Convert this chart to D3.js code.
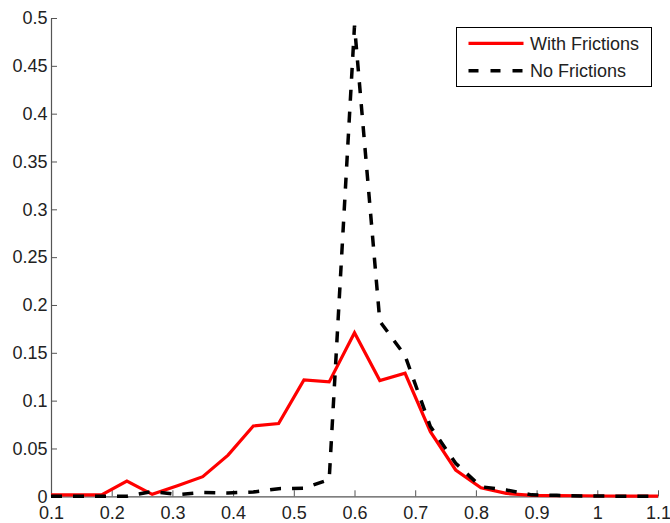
<!DOCTYPE html>
<html>
<head>
<meta charset="utf-8">
<script src="https://cdn.jsdelivr.net/npm/d3@7"></script>
<style>
  html, body { margin: 0; padding: 0; background: #fff; }
  svg { display: block; }
  text { font-family: "Liberation Sans", Arial, sans-serif; fill: #222; }
</style>
</head>
<body>
<svg id="chart" width="670" height="523"></svg>
<script>
// ---- data ----
const xValues = [0.1, 0.1417, 0.1833, 0.225, 0.2667, 0.3083, 0.35, 0.3917, 0.4333, 0.475,
                 0.5167, 0.5583, 0.6, 0.6417, 0.6833, 0.725, 0.7667, 0.8083, 0.85, 0.8917,
                 0.9333, 0.975, 1.0167, 1.0583, 1.1];
const withFrictions = [0.0015, 0.0015, 0.0015, 0.016, 0.002, 0.011, 0.0205, 0.043, 0.0735, 0.076,
                       0.1217, 0.1196, 0.171, 0.121, 0.1286, 0.0676, 0.0275, 0.009, 0.003, 0.001,
                       0.0008, 0.0006, 0.0003, 0.0002, 0.0001];
const noFrictions = [0, 0, 0, 0, 0.005, 0.0018, 0.004, 0.0035, 0.0045, 0.008,
                     0.0085, 0.0175, 0.492, 0.183, 0.147, 0.073, 0.0345, 0.01, 0.0066, 0.0015,
                     0.001, 0.0004, 0.0002, 0.0001, 0];
const xTicks = [0.1, 0.2, 0.3, 0.4, 0.5, 0.6, 0.7, 0.8, 0.9, 1, 1.1];
const yTicks = [0, 0.05, 0.1, 0.15, 0.2, 0.25, 0.3, 0.35, 0.4, 0.45, 0.5];
const seriesNames = ["With Frictions", "No Frictions"];

// ---- layout ----
const svg = d3.select("#chart");
const mLeft = 51, mRight = 658, mTop = 18, mBottom = 496.3;
const x = d3.scaleLinear().domain([0.1, 1.1]).range([mLeft, mRight]);
const y = d3.scaleLinear().domain([0, 0.5]).range([mBottom, mTop]);
const fontSize = "18px";
const axisColor = "#555";

// axes
const gx = svg.append("g").attr("transform", `translate(0,${mBottom})`)
  .call(d3.axisBottom(x).tickValues(xTicks).tickFormat(d3.format("~g"))
        .tickSizeInner(-6).tickSizeOuter(0).tickPadding(10));
const gy = svg.append("g").attr("transform", `translate(${mLeft},0)`)
  .call(d3.axisLeft(y).tickValues(yTicks).tickFormat(d3.format("~g"))
        .tickSizeInner(-6).tickSizeOuter(0).tickPadding(3.5));
[gx, gy].forEach(g => {
  g.select(".domain").attr("stroke", axisColor).attr("stroke-width", 1.2);
  g.selectAll(".tick line").attr("stroke", axisColor).attr("stroke-width", 1);
  g.selectAll(".tick text").attr("font-size", fontSize).attr("fill", "#222")
    .attr("font-family", "Liberation Sans, Arial, sans-serif");
});

// lines
const dash = "11,11";
const line = d3.line().x((d, i) => x(xValues[i])).y(d => y(d));
svg.append("path").datum(withFrictions)
  .attr("d", line).attr("fill", "none").attr("stroke", "#ff0000")
  .attr("stroke-width", 3.2).attr("stroke-linejoin", "miter");
svg.append("path").datum(noFrictions)
  .attr("d", line).attr("fill", "none").attr("stroke", "#000")
  .attr("stroke-width", 3.5).attr("stroke-dasharray", dash).attr("stroke-linejoin", "miter");

// legend
const lg = svg.append("g");
lg.append("rect").attr("x", 456.5).attr("y", 27.5).attr("width", 195).attr("height", 59)
  .attr("fill", "#fff").attr("stroke", "#000").attr("stroke-width", 1);
const legendRows = [
  { name: seriesNames[0], color: "#ff0000", dash: null, y: 43.3, w: 3.2 },
  { name: seriesNames[1], color: "#000", dash: "10,12", y: 70.7, w: 3.5 }
];
legendRows.forEach(r => {
  lg.append("line").attr("x1", 468.5).attr("x2", 523.5).attr("y1", r.y).attr("y2", r.y)
    .attr("stroke", r.color).attr("stroke-width", r.w)
    .attr("stroke-dasharray", r.dash);
  lg.append("text").attr("x", 530).attr("y", r.y).attr("dy", "0.36em")
    .attr("font-size", fontSize).text(r.name);
});
</script>
</body>
</html>
